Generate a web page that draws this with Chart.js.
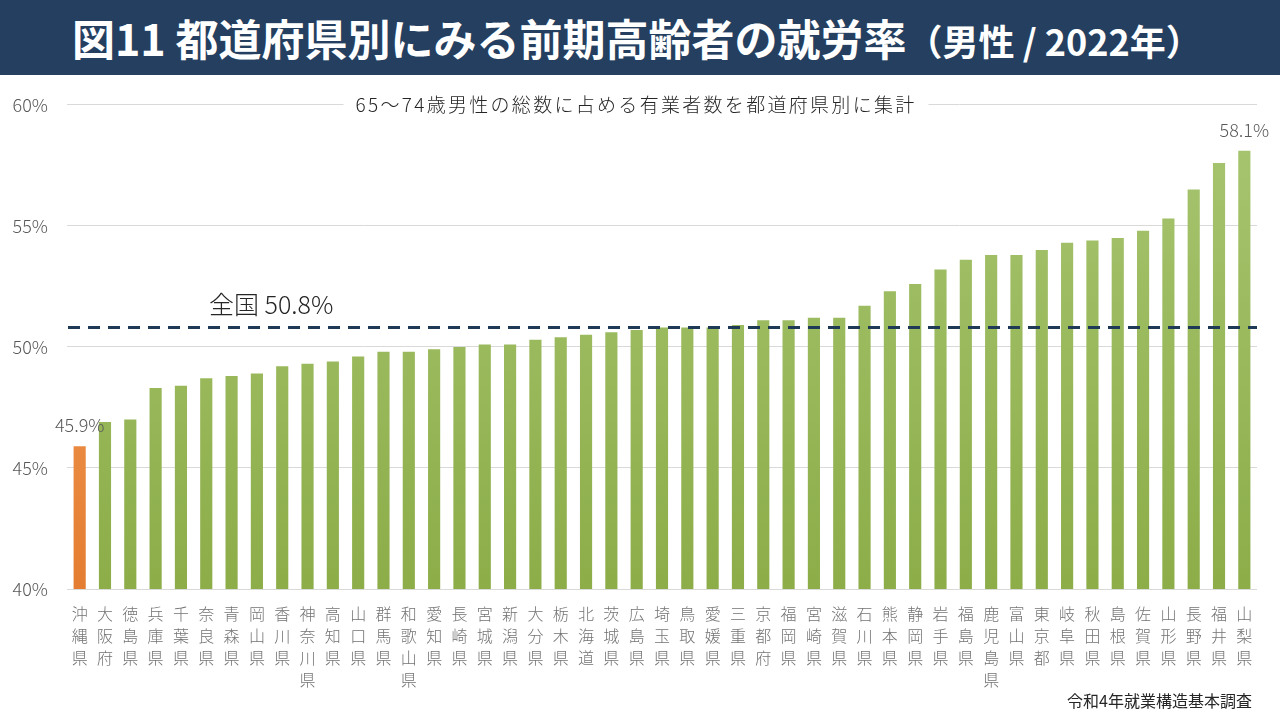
<!DOCTYPE html>
<html lang="ja">
<head>
<meta charset="utf-8">
<script src="https://cdn.jsdelivr.net/npm/chart.js@4.4.0/dist/chart.umd.min.js"></script>
<style>
html, body { margin: 0; padding: 0; background: #fff; }
#head {
    height: 75px; background: #243f60; color: #fff;
    font-family: "Noto Sans CJK JP", sans-serif; font-weight: 700;
    font-size: 43px; line-height: 75px; padding-left: 72px; white-space: nowrap;
}
#head small { font-size: 36px; }
</style>
</head>
<body>
<div id="head">図11 都道府県別にみる前期高齢者の就労率<small>（男性 / 2022年）</small></div>
<canvas id="chart" width="1280" height="645"></canvas>
<script>
// values (%)
var prefectures = ['沖縄県', '大阪府', '徳島県', '兵庫県', '千葉県', '奈良県', '青森県', '岡山県', '香川県', '神奈川県',
    '高知県', '山口県', '群馬県', '和歌山県', '愛知県', '長崎県', '宮城県', '新潟県', '大分県', '栃木県',
    '北海道', '茨城県', '広島県', '埼玉県', '鳥取県', '愛媛県', '三重県', '京都府', '福岡県', '宮崎県',
    '滋賀県', '石川県', '熊本県', '静岡県', '岩手県', '福島県', '鹿児島県', '富山県', '東京都', '岐阜県',
    '秋田県', '島根県', '佐賀県', '山形県', '長野県', '福井県', '山梨県'];
var rates = [45.9, 46.9, 47.0, 48.3, 48.4, 48.7, 48.8, 48.9, 49.2, 49.3,
    49.4, 49.6, 49.8, 49.8, 49.9, 50.0, 50.1, 50.1, 50.3, 50.4,
    50.5, 50.6, 50.7, 50.8, 50.8, 50.8, 50.9, 51.1, 51.1, 51.2,
    51.2, 51.7, 52.3, 52.6, 53.2, 53.6, 53.8, 53.8, 54.0, 54.3,
    54.4, 54.5, 54.8, 55.3, 56.5, 57.6, 58.1];
var nationalRate = 50.8;
var nationalLabel = '全国 ';
var highlight = '沖縄県';
var yMin = 40, yMax = 60, yStep = 5;
var subtitle = '65～74歳男性の総数に占める有業者数を都道府県別に集計';
var source = '令和4年就業構造基本調査';

var FONT = '"Noto Sans CJK JP", "Noto Sans", sans-serif';

function barFill(context) {
    var chart = context.chart, area = chart.chartArea;
    if (!area) return '#9bbb59';
    var hi = prefectures[context.dataIndex] === highlight;
    var g = chart.ctx.createLinearGradient(0, area.top, 0, area.bottom);
    g.addColorStop(0, hi ? '#f6a866' : '#a8c672');
    g.addColorStop(1, hi ? '#e47d31' : '#8cad48');
    return g;
}

var overlay = {
    id: 'overlay',
    afterDatasetsDraw: function (chart) {
        var ctx = chart.ctx, area = chart.chartArea, y = chart.scales.y;
        var meta = chart.getDatasetMeta(0);
        ctx.save();

        // subtitle sitting on the top gridline
        ctx.font = '300 19px ' + FONT;
        ctx.letterSpacing = '2.3px';
        var w = ctx.measureText(subtitle).width;
        var cx = 636, ty = y.getPixelForValue(yMax);
        ctx.fillStyle = '#fff';
        ctx.fillRect(cx - w / 2 - 12, ty - 13, w + 24, 26);
        ctx.fillStyle = '#262626';
        ctx.textAlign = 'center';
        ctx.textBaseline = 'middle';
        ctx.fillText(subtitle, cx, ty);
        ctx.letterSpacing = '0px';

        // national average line
        var ny = y.getPixelForValue(nationalRate);
        ctx.strokeStyle = '#1f3a56';
        ctx.lineWidth = 3;
        ctx.setLineDash([12, 8]);
        ctx.beginPath();
        ctx.moveTo(area.left + 1, ny);
        ctx.lineTo(area.right, ny);
        ctx.stroke();
        ctx.setLineDash([]);
        ctx.font = '300 25px ' + FONT;
        ctx.textAlign = 'left';
        ctx.fillStyle = '#262626';
        ctx.fillText(nationalLabel + nationalRate.toFixed(1) + '%', 209, ny - 23);

        // min / max value labels
        var lo = 0, hi = 0;
        rates.forEach(function (v, i) {
            if (v < rates[lo]) lo = i;
            if (v > rates[hi]) hi = i;
        });
        ctx.font = '300 18px ' + FONT;
        ctx.fillStyle = '#595959';
        ctx.textAlign = 'center';
        [lo, hi].forEach(function (i) {
            var bar = meta.data[i];
            ctx.fillText(rates[i].toFixed(1) + '%', bar.x, bar.y - 21);
        });

        // source note
        ctx.font = '16px ' + FONT;
        ctx.fillStyle = '#262626';
        ctx.textAlign = 'right';
        ctx.fillText(source, 1252, 626);
        ctx.restore();
    }
};

new Chart(document.getElementById('chart'), {
    type: 'bar',
    data: {
        labels: prefectures.map(function (p) { return p.split(''); }),
        datasets: [{
            data: rates,
            backgroundColor: barFill,
            barPercentage: 0.48,
            categoryPercentage: 1
        }]
    },
    options: {
        responsive: false,
        animation: false,
        layout: { padding: { top: 29, right: 23, left: 0, bottom: 0 } },
        plugins: { legend: { display: false }, tooltip: { enabled: false } },
        scales: {
            x: {
                grid: { display: false },
                border: { display: false },
                ticks: {
                    autoSkip: false, maxRotation: 0, minRotation: 0, padding: 6,
                    color: '#737373', font: { family: FONT, size: 16, weight: 300, lineHeight: 1.38 }
                },
                afterFit: function (scale) { scale.height = 131; }
            },
            y: {
                min: yMin, max: yMax,
                grid: { color: '#d9d9d9', drawTicks: false },
                border: { display: false },
                ticks: {
                    stepSize: yStep, padding: 19, color: '#595959',
                    font: { family: FONT, size: 18, weight: 300 },
                    callback: function (v) { return v + '%'; }
                },
                afterFit: function (scale) { scale.width = 67; }
            }
        }
    },
    plugins: [overlay]
});
</script>
</body>
</html>
